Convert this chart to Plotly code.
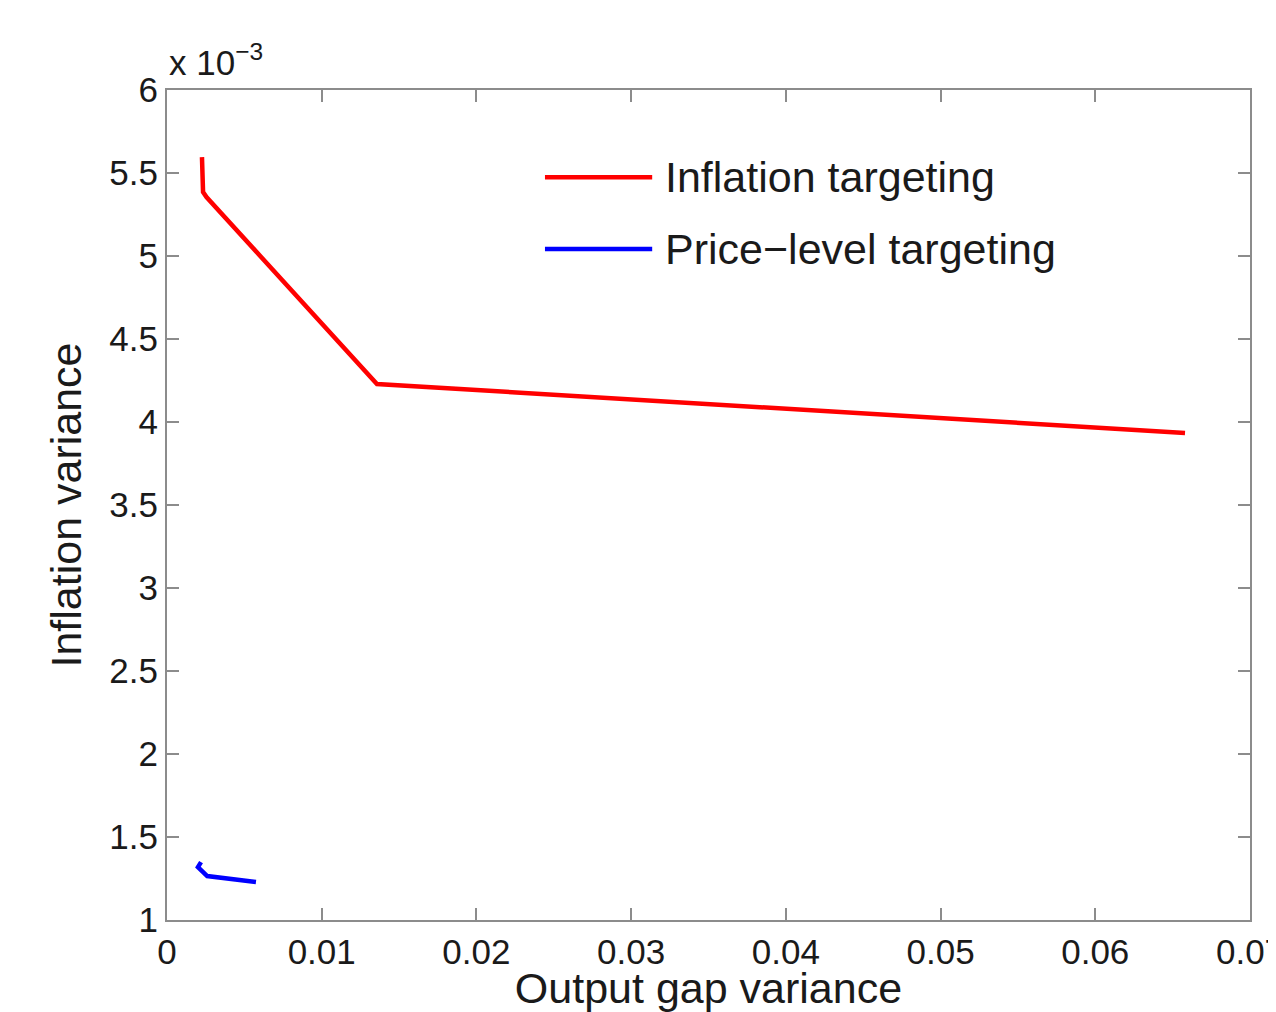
import plotly.graph_objects as go

# Data (inflation variance in units of 1e-3)
it_output_gap = [0.00226, 0.00233, 0.00255, 0.01357, 0.0658]
it_inflation = [5.596, 5.386, 5.355, 4.229, 3.934]

plt_output_gap = [0.00220, 0.00200, 0.00260, 0.00575]
plt_inflation = [1.349, 1.319, 1.265, 1.229]

x_ticks = [0, 0.01, 0.02, 0.03, 0.04, 0.05, 0.06, 0.07]
x_tick_labels = ["0", "0.01", "0.02", "0.03", "0.04", "0.05", "0.06", "0.07"]
y_ticks = [1, 1.5, 2, 2.5, 3, 3.5, 4, 4.5, 5, 5.5, 6]
y_tick_labels = ["1", "1.5", "2", "2.5", "3", "3.5", "4", "4.5", "5", "5.5", "6"]

series_names = ["Inflation targeting", "Price\u2212level targeting"]
series_colors = ["#ff0000", "#0000ff"]

FONT = "Liberation Sans, Arial, sans-serif"
TXT = "#1a1a1a"
FRAME = "#8c8c8c"

fig = go.Figure()
fig.add_trace(go.Scatter(x=it_output_gap, y=it_inflation, mode="lines",
                         line=dict(color=series_colors[0], width=4.5),
                         name=series_names[0], showlegend=False))
fig.add_trace(go.Scatter(x=plt_output_gap, y=plt_inflation, mode="lines",
                         line=dict(color=series_colors[1], width=4.5),
                         name=series_names[1], showlegend=False))

axis_common = dict(showgrid=False, zeroline=False, showline=True, linecolor=FRAME,
                   linewidth=2, mirror="allticks", ticks="inside", ticklen=12,
                   tickcolor=FRAME, tickwidth=2, automargin=False,
                   ticklabeloverflow="allow",
                   tickfont=dict(family=FONT, size=35, color=TXT))

fig.update_xaxes(range=[0, 0.0700001], tickvals=x_ticks, ticktext=x_tick_labels,
                 title=dict(text="Output gap variance",
                            font=dict(family=FONT, size=43, color=TXT), standoff=17),
                 **axis_common)
fig.update_yaxes(range=[1, 6.0000001], tickvals=y_ticks, ticktext=y_tick_labels,
                 title=dict(text="Inflation variance",
                            font=dict(family=FONT, size=43, color=TXT), standoff=14),
                 **axis_common)

# Manual legend (MATLAB-style, no box)
leg_y = [0.895, 0.8084]
for name, color, yy in zip(series_names, series_colors, leg_y):
    fig.add_shape(type="line", xref="paper", yref="paper", x0=0.349, x1=0.448,
                  y0=yy, y1=yy, line=dict(color=color, width=4.5))
    fig.add_annotation(xref="paper", yref="paper", x=0.4578, y=yy, xanchor="left",
                       yanchor="middle", text=name, showarrow=False,
                       font=dict(family=FONT, size=43, color=TXT))

# Exponent label
fig.add_annotation(xref="paper", yref="paper", x=0, y=1, xanchor="left", yanchor="bottom",
                   yshift=6, text="x 10<sup>\u22123</sup>", showarrow=False,
                   font=dict(family=FONT, size=35, color=TXT))

fig.update_layout(width=1268, height=1004, plot_bgcolor="white", paper_bgcolor="white",
                  margin=dict(l=159, r=26, t=82, b=92))

fig.write_html("out.html")
